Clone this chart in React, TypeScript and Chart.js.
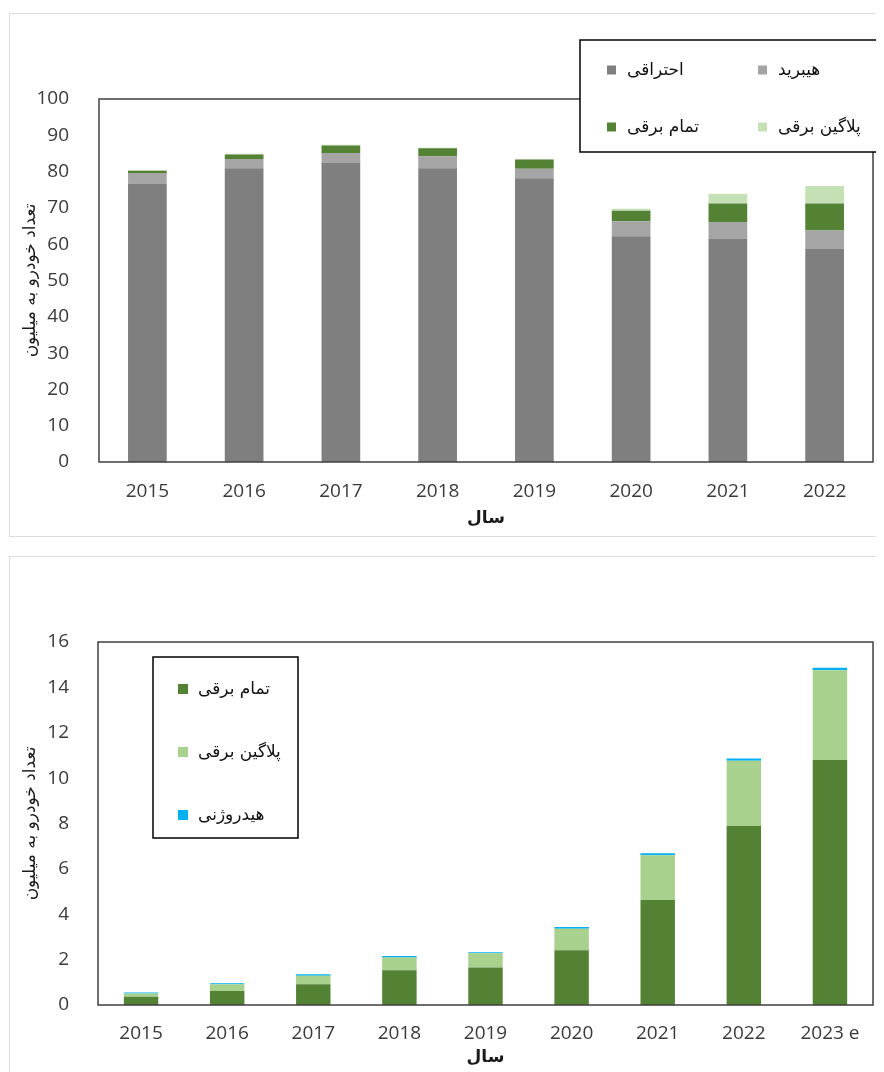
import React, { useEffect, useRef } from "react";
import { Chart, registerables } from "chart.js";

Chart.register(...registerables);

// ---- Global car fleet by powertrain (millions) ----
const fleetYears = ["2015", "2016", "2017", "2018", "2019", "2020", "2021", "2022"];
const combustion = [76.7, 80.9, 82.5, 80.9, 78.2, 62.2, 61.6, 58.8];
const hybrid = [2.9, 2.6, 2.6, 3.3, 2.6, 4.1, 4.5, 5.0];
const batteryElectric = [0.6, 1.2, 2.1, 2.2, 2.5, 2.9, 5.1, 7.4];
const plugInHybrid = [0.2, 0.2, 0.2, 0.2, 0.1, 0.6, 2.7, 4.8];
const fleetTicks = [0, 10, 20, 30, 40, 50, 60, 70, 80, 90, 100];

// ---- Electric vehicle sales (millions) ----
const evYears = ["2015", "2016", "2017", "2018", "2019", "2020", "2021", "2022", "2023 e"];
const evBattery = [0.36, 0.62, 0.91, 1.53, 1.65, 2.41, 4.63, 7.89, 10.8];
const evPlugIn = [0.15, 0.29, 0.38, 0.56, 0.63, 0.95, 1.97, 2.88, 3.95];
const evHydrogen = [0.04, 0.05, 0.06, 0.07, 0.05, 0.08, 0.09, 0.09, 0.12];
const evTicks = [0, 2, 4, 6, 8, 10, 12, 14, 16];

const LABEL_COMBUSTION = "احتراقی";
const LABEL_HYBRID = "هیبرید";
const LABEL_BEV = "تمام برقی";
const LABEL_PHEV = "پلاگین برقی";
const LABEL_H2 = "هیدروژنی";
const AXIS_X = "سال";
const AXIS_Y = "تعداد خودرو به میلیون";

const NUM_FONT = "'Open Sans', sans-serif";
const FA_FONT = "'DejaVu Sans', sans-serif";

// Draws the dark frame around the plot area and a boxed legend on top of it.
const frameLegendPlugin = {
  id: "frameLegend",
  afterDraw(chart: any, _args: any, opts: any) {
    const ctx = chart.ctx as CanvasRenderingContext2D;
    const a = chart.chartArea;
    ctx.save();
    ctx.strokeStyle = opts.frameColor;
    ctx.lineWidth = opts.frameWidth;
    ctx.strokeRect(a.left, a.top, a.right - a.left, a.bottom - a.top);

    const b = opts.box;
    ctx.fillStyle = "#ffffff";
    ctx.fillRect(b.x, b.y, b.w, b.h);
    ctx.strokeStyle = "#000000";
    ctx.lineWidth = 1.5;
    ctx.strokeRect(b.x, b.y, b.w, b.h);

    ctx.font = opts.font;
    ctx.textAlign = "left";
    ctx.textBaseline = "middle";
    for (const slot of opts.slots) {
      const ds = chart.data.datasets[slot.dataset];
      ctx.fillStyle = ds.backgroundColor;
      ctx.fillRect(slot.x, slot.y - opts.size / 2, opts.size, opts.size);
      ctx.fillStyle = opts.textColor;
      ctx.fillText(ds.label, slot.x + opts.size + opts.gap, slot.y + 1);
    }
    ctx.restore();
  },
};

function axisOptions(
  ticks: number[],
  yWidth: number,
  xHeight: number,
  yPad: number,
  xPad: number,
  xTitlePad: number
) {
  return {
    x: {
      stacked: true,
      grid: { display: false },
      border: { display: false },
      ticks: {
        color: "#3a3a3a",
        font: { family: NUM_FONT, size: 19 },
        padding: xPad,
        maxRotation: 0,
        autoSkip: false,
      },
      title: {
        display: true,
        text: AXIS_X,
        color: "#1a1a1a",
        font: { family: FA_FONT, size: 17, weight: "bold" },
        padding: { top: 0, bottom: xTitlePad },
      },
      afterFit: (s: any) => {
        s.height = xHeight;
      },
    },
    y: {
      stacked: true,
      min: ticks[0],
      max: ticks[ticks.length - 1],
      grid: { display: false },
      border: { display: false },
      afterBuildTicks: (s: any) => {
        s.ticks = ticks.map((v) => ({ value: v }));
      },
      ticks: {
        color: "#3a3a3a",
        font: { family: NUM_FONT, size: 19 },
        padding: yPad,
      },
      title: {
        display: true,
        text: AXIS_Y,
        color: "#1a1a1a",
        font: { family: FA_FONT, size: 17 },
        padding: { top: 12, bottom: 0 },
      },
      afterFit: (s: any) => {
        s.width = yWidth;
      },
    },
  };
}

function FleetChart() {
  const ref = useRef<HTMLCanvasElement>(null);
  useEffect(() => {
    const chart = new Chart(ref.current as HTMLCanvasElement, {
      type: "bar",
      data: {
        labels: fleetYears,
        datasets: [
          { label: LABEL_COMBUSTION, data: combustion, backgroundColor: "#7f7f7f" },
          { label: LABEL_HYBRID, data: hybrid, backgroundColor: "#a5a5a5" },
          { label: LABEL_BEV, data: batteryElectric, backgroundColor: "#548235" },
          { label: LABEL_PHEV, data: plugInHybrid, backgroundColor: "#c5e0b4" },
        ],
      },
      options: {
        responsive: false,
        animation: false,
        devicePixelRatio: 1,
        datasets: { bar: { barPercentage: 0.4, categoryPercentage: 1 } },
        layout: { padding: { top: 91, right: 11, left: 0, bottom: 0 } },
        scales: axisOptions(fleetTicks, 91, 86, 22, 10, 19) as any,
        plugins: {
          legend: { display: false },
          tooltip: { enabled: false },
          frameLegend: {
            frameColor: "#3f3f3f",
            frameWidth: 1.5,
            box: { x: 572, y: 32, w: 302, h: 112 },
            size: 9,
            gap: 11,
            font: `17px ${FA_FONT}`,
            textColor: "#111111",
            slots: [
              { dataset: 0, x: 599, y: 62 },
              { dataset: 1, x: 750, y: 62 },
              { dataset: 2, x: 599, y: 119 },
              { dataset: 3, x: 750, y: 119 },
            ],
          },
        } as any,
      },
      plugins: [frameLegendPlugin],
    });
    return () => chart.destroy();
  }, []);
  return <canvas ref={ref} width={876} height={540} style={{ position: "absolute", left: 0, top: 0 }} />;
}

function ElectricChart() {
  const ref = useRef<HTMLCanvasElement>(null);
  useEffect(() => {
    const chart = new Chart(ref.current as HTMLCanvasElement, {
      type: "bar",
      data: {
        labels: evYears,
        datasets: [
          { label: LABEL_BEV, data: evBattery, backgroundColor: "#548235" },
          { label: LABEL_PHEV, data: evPlugIn, backgroundColor: "#a9d18e" },
          { label: LABEL_H2, data: evHydrogen, backgroundColor: "#00b0f0" },
        ],
      },
      options: {
        responsive: false,
        animation: false,
        devicePixelRatio: 1,
        datasets: { bar: { barPercentage: 0.4, categoryPercentage: 1 } },
        layout: { padding: { top: 86, right: 11, left: 0, bottom: 0 } },
        scales: axisOptions(evTicks, 90, 67, 21, 9, 4) as any,
        plugins: {
          legend: { display: false },
          tooltip: { enabled: false },
          frameLegend: {
            frameColor: "#3f3f3f",
            frameWidth: 1.5,
            box: { x: 145, y: 101, w: 145, h: 181 },
            size: 10,
            gap: 10,
            font: `17px ${FA_FONT}`,
            textColor: "#111111",
            slots: [
              { dataset: 0, x: 170, y: 133 },
              { dataset: 1, x: 170, y: 196 },
              { dataset: 2, x: 170, y: 259 },
            ],
          },
        } as any,
      },
      plugins: [frameLegendPlugin],
    });
    return () => chart.destroy();
  }, []);
  return <canvas ref={ref} width={876} height={516} style={{ position: "absolute", left: 0, top: 548 }} />;
}

export default function App() {
  const panel: React.CSSProperties = {
    position: "absolute",
    left: 1,
    width: 920,
    border: "1px solid #dcdcdc",
    boxSizing: "border-box",
    background: "#ffffff",
  };
  return (
    <div style={{ position: "relative", width: 876, height: 1064, overflow: "hidden" }}>
      <div style={{ ...panel, top: 5, height: 524 }} />
      <div style={{ ...panel, top: 548, height: 600 }} />
      <FleetChart />
      <ElectricChart />
    </div>
  );
}
